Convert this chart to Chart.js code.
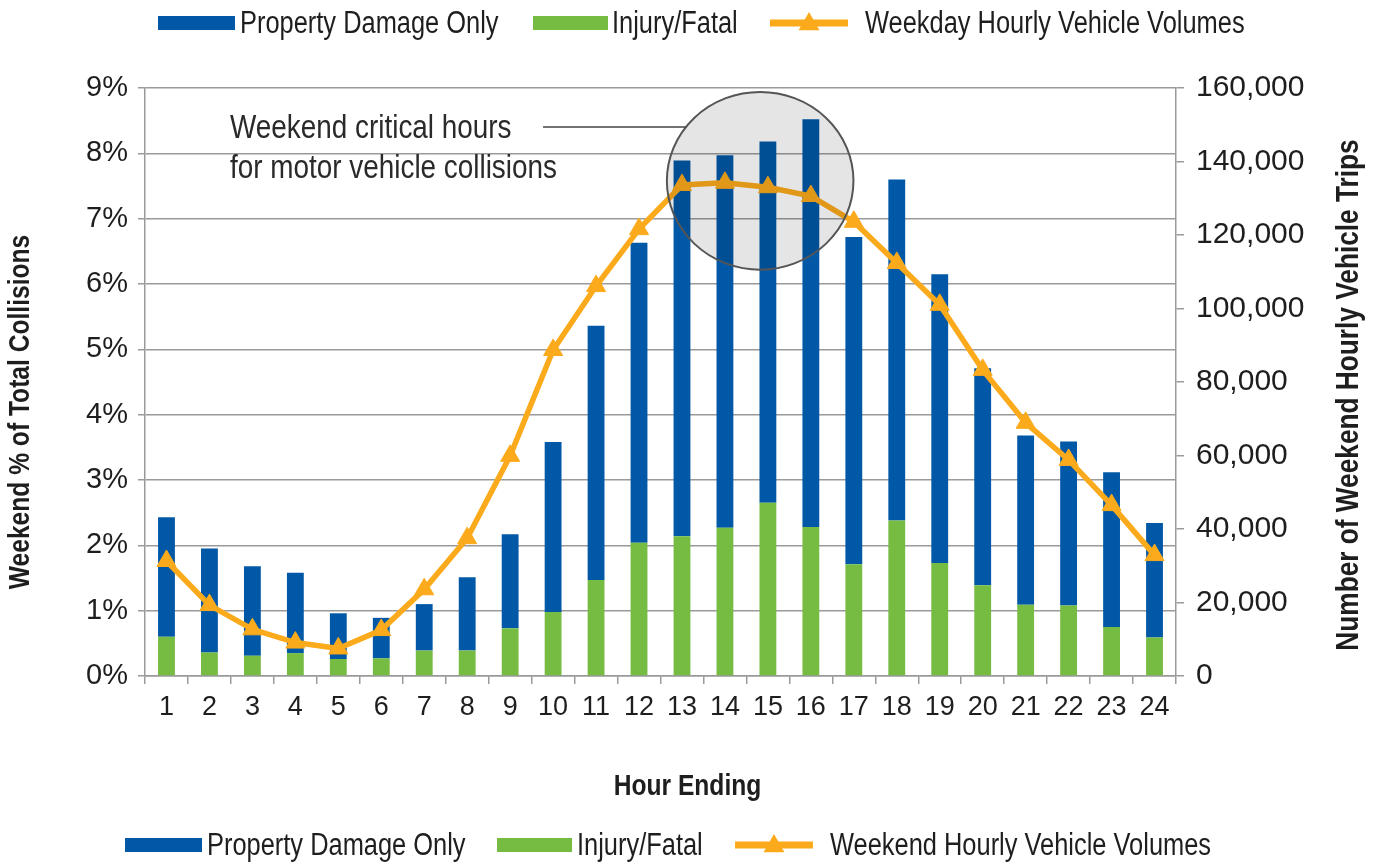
<!DOCTYPE html>
<html>
<head>
<meta charset="utf-8">
<title>Weekend collisions by hour</title>
<script src="https://cdn.jsdelivr.net/npm/chart.js@4.4.0/dist/chart.umd.min.js"></script>
<style>
  html, body { margin: 0; padding: 0; background: #fff; }
  #wrap { width: 1379px; height: 864px; }
</style>
</head>
<body>
<div id="wrap"><canvas id="chart" width="1379" height="864"></canvas></div>
<script>
// hour ending 1..24
const hours = ['1','2','3','4','5','6','7','8','9','10','11','12','13','14','15','16','17','18','19','20','21','22','23','24'];

// weekend % of total collisions
const injuryFatal = [0.60,0.36,0.31,0.35,0.26,0.27,0.39,0.39,0.73,0.98,1.47,2.04,2.14,2.27,2.65,2.28,1.71,2.38,1.73,1.39,1.09,1.08,0.75,0.59];
const propertyDamage = [1.83,1.59,1.37,1.23,0.70,0.62,0.71,1.12,1.44,2.60,3.89,4.59,5.75,5.70,5.53,6.24,5.01,5.22,4.42,3.32,2.59,2.51,2.37,1.75];

// weekend hourly vehicle volumes (right axis)
const weekendVolumes = [31300,19300,12700,9100,7500,12500,23600,37500,59900,88700,106100,121600,133600,134200,133000,130600,123600,112400,101000,83300,68900,58800,46500,32900];

const pctTicks = [0,1,2,3,4,5,6,7,8,9];
const tripTicks = [0,20000,40000,60000,80000,100000,120000,140000,160000];

const topLegend = ['Property Damage Only', 'Injury/Fatal', 'Weekday Hourly Vehicle Volumes'];
const bottomLegend = ['Property Damage Only', 'Injury/Fatal', 'Weekend Hourly Vehicle Volumes'];
const noteLines = ['Weekend critical hours', 'for motor vehicle collisions'];
const xTitle = 'Hour Ending';
const yTitle = 'Weekend % of Total Collisions';
const y1Title = 'Number of Weekend Hourly Vehicle Trips';

const BLUE = '#0058A6';
const GREEN = '#76BC43';
const ORANGE = '#FBAA1B';
const GRID = '#9a9a9a';
const TEXT = '#1e1e1e';

const REG = '"Liberation Sans", Arial, sans-serif';

// no narrow face installed, so squeeze Liberation Sans like Arial Narrow
function narrowText(ctx, text, x, y, size, bold, rot, align) {
  ctx.save();
  ctx.translate(x, y);
  if (rot) ctx.rotate(rot);
  ctx.scale(0.82, 1);
  ctx.font = (bold ? 'bold ' : '') + size + 'px ' + REG;
  ctx.textAlign = align || 'left';
  ctx.fillText(text, 0, 0);
  ctx.restore();
}

// legends, axis titles and the circled note
const overlay = {
  id: 'overlay',
  afterDatasetsDraw(chart) {
    const { ctx, scales: { x, y } } = chart;
    const x0 = x.getPixelForValue(13), x1 = x.getPixelForValue(14);
    const cx = x0 + 0.82 * (x1 - x0);
    const cy = y.getPixelForValue(7.58);
    const ry = y.getPixelForValue(0) - y.getPixelForValue(1.36);
    const rx = ry * 1.05;
    ctx.save();
    ctx.beginPath();
    ctx.ellipse(cx, cy, rx, ry, 0, 0, Math.PI * 2);
    ctx.fillStyle = 'rgba(0,0,0,0.1)';
    ctx.fill();
    ctx.lineWidth = 2;
    ctx.strokeStyle = '#555';
    ctx.stroke();

    // leader line to the circle edge
    const ly = 127;
    const dy = (ly - cy) / ry;
    const ex = cx - rx * Math.sqrt(Math.max(0, 1 - dy * dy));
    ctx.beginPath();
    ctx.moveTo(543, ly);
    ctx.lineTo(ex, ly);
    ctx.lineWidth = 1.5;
    ctx.strokeStyle = '#444';
    ctx.stroke();

    ctx.fillStyle = '#2a2a2a';
    ctx.textBaseline = 'alphabetic';
    narrowText(ctx, noteLines[0], 230, 138, 34, false);
    narrowText(ctx, noteLines[1], 230, 178, 34, false);
    ctx.restore();
  },
  afterDraw(chart) {
    const { ctx, chartArea } = chart;
    ctx.save();
    ctx.fillStyle = TEXT;
    ctx.textBaseline = 'middle';
    narrowText(ctx, yTitle, 21, 412, 30, true, -Math.PI / 2, 'center');
    narrowText(ctx, y1Title, 1349, 395, 32, true, -Math.PI / 2, 'center');
    narrowText(ctx, xTitle, (chartArea.left + chartArea.right) / 2 + 27, 787, 30, true, 0, 'center');
    ctx.restore();

    const drawRow = (labels, cy, pos) => {
      ctx.save();
      ctx.textBaseline = 'middle';
      ctx.fillStyle = BLUE;
      ctx.fillRect(pos[0], cy - 7, 77, 14);
      ctx.fillStyle = GREEN;
      ctx.fillRect(pos[2], cy - 7, 75, 14);
      // line + triangle
      ctx.strokeStyle = ORANGE;
      ctx.lineWidth = 7;
      ctx.beginPath();
      ctx.moveTo(pos[4], cy);
      ctx.lineTo(pos[4] + 78, cy);
      ctx.stroke();
      const tx = pos[4] + 39, r = 11;
      ctx.fillStyle = ORANGE;
      ctx.beginPath();
      ctx.moveTo(tx, cy - r);
      ctx.lineTo(tx + r * 0.95, cy + r * 0.65);
      ctx.lineTo(tx - r * 0.95, cy + r * 0.65);
      ctx.closePath();
      ctx.fill();
      ctx.fillStyle = TEXT;
      narrowText(ctx, labels[0], pos[1], cy + 1, 31, false);
      narrowText(ctx, labels[1], pos[3], cy + 1, 31, false);
      narrowText(ctx, labels[2], pos[5], cy + 1, 31, false);
      ctx.restore();
    };
    drawRow(topLegend, 23, [158, 240, 533, 612, 770, 865]);
    drawRow(bottomLegend, 845, [125, 207, 497, 577, 735, 830]);
  }
};

new Chart(document.getElementById('chart'), {
  type: 'bar',
  data: {
    labels: hours,
    datasets: [
      {
        type: 'line',
        label: bottomLegend[2],
        data: weekendVolumes,
        yAxisID: 'y1',
        borderColor: ORANGE,
        backgroundColor: ORANGE,
        borderWidth: 5.5,
        pointStyle: 'triangle',
        pointRadius: 11,
        pointBorderWidth: 1,
        tension: 0,
        order: 0
      },
      {
        label: topLegend[1],
        data: injuryFatal,
        backgroundColor: GREEN,
        yAxisID: 'y',
        categoryPercentage: 0.8,
        barPercentage: 0.49,
        order: 1
      },
      {
        label: topLegend[0],
        data: propertyDamage,
        backgroundColor: BLUE,
        yAxisID: 'y',
        categoryPercentage: 0.8,
        barPercentage: 0.49,
        order: 1
      }
    ]
  },
  options: {
    responsive: false,
    animation: false,
    devicePixelRatio: 1,
    layout: { padding: { top: 88, left: 0, right: 0, bottom: 0 } },
    plugins: {
      legend: { display: false },
      tooltip: { enabled: false }
    },
    scales: {
      x: {
        stacked: true,
        afterFit: s => { s.height = 188; },
        grid: { offset: true, drawOnChartArea: false, drawTicks: true, tickLength: 8, color: GRID, lineWidth: 1.5 },
        border: { color: GRID, width: 1.5 },
        ticks: { color: TEXT, font: { family: REG, size: 27 }, padding: 7, maxRotation: 0, autoSkip: false }
      },
      y: {
        stacked: true,
        position: 'left',
        min: 0,
        max: 9,
        afterFit: s => { s.width = 145; },
        afterBuildTicks: s => { s.ticks = pctTicks.map(v => ({ value: v })); },
        grid: { color: GRID, lineWidth: 1.5, tickLength: 7 },
        border: { color: GRID, width: 1.5 },
        ticks: { color: TEXT, font: { family: REG, size: 29 }, padding: 10, callback: v => v + '%' }
      },
      y1: {
        stacked: false,
        position: 'right',
        min: 0,
        max: 160000,
        afterFit: s => { s.width = 203; },
        afterBuildTicks: s => { s.ticks = tripTicks.map(v => ({ value: v })); },
        grid: { drawOnChartArea: false, color: GRID, lineWidth: 1.5, tickLength: 8 },
        border: { color: GRID, width: 1.5 },
        ticks: { color: TEXT, font: { family: REG, size: 30 }, padding: 12, callback: v => v.toLocaleString('en-US') }
      }
    }
  },
  plugins: [overlay]
});
</script>
</body>
</html>
